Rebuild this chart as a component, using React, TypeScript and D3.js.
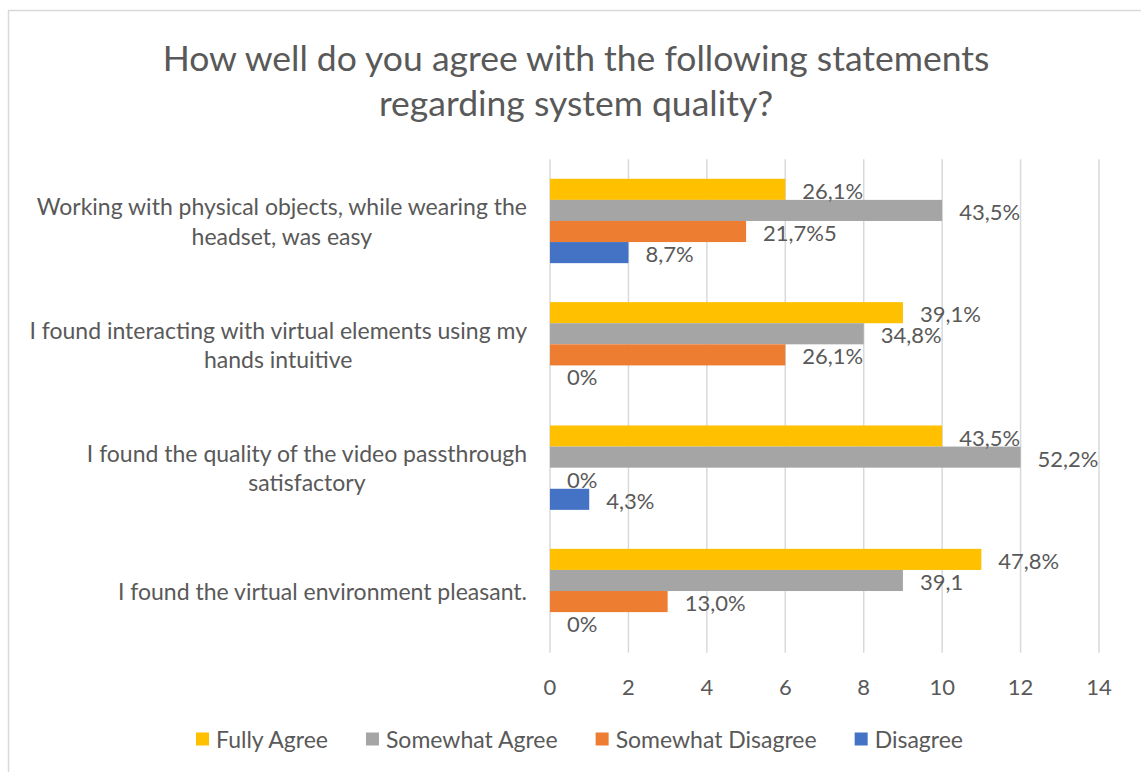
import React, { useEffect, useRef } from "react";
import * as d3 from "d3";

const categories = [
  ["Working with physical objects, while wearing the", "headset, was easy"],
  ["I found interacting with virtual elements using my", "hands intuitive"],
  ["I found the quality of the video passthrough", "satisfactory"],
  ["I found the virtual environment pleasant."],
];
const seriesNames = ["Fully Agree", "Somewhat Agree", "Somewhat Disagree", "Disagree"];
const seriesColors = ["#FFC000", "#A5A5A5", "#ED7D31", "#4472C4"];
const fullyAgree = [6, 9, 10, 11];
const somewhatAgree = [10, 8, 12, 9];
const somewhatDisagree = [5, 6, 0, 3];
const disagree = [2, 0, 1, 0];
const fullyAgreeLabels = ["26,1%", "39,1%", "43,5%", "47,8%"];
const somewhatAgreeLabels = ["43,5%", "34,8%", "52,2%", "39,1"];
const somewhatDisagreeLabels = ["21,7%5", "26,1%", "0%", "13,0%"];
const disagreeLabels = ["8,7%", "0%", "4,3%", "0%"];
const xTicks = [0, 2, 4, 6, 8, 10, 12, 14];
const titleLines = ["How well do you agree with the following statements", "regarding system quality?"];

const FONT = "Lato, 'Open Sans', sans-serif";
const TEXT = "#595959";

export default function App() {
  const ref = useRef<SVGSVGElement>(null);

  useEffect(() => {
    const svg = d3.select(ref.current);
    svg.selectAll("*").remove();

    const values = [fullyAgree, somewhatAgree, somewhatDisagree, disagree];
    const labels = [fullyAgreeLabels, somewhatAgreeLabels, somewhatDisagreeLabels, disagreeLabels];

    const W = 1141, H = 772;
    svg.append("rect").attr("x", 0).attr("y", 0).attr("width", W).attr("height", H).attr("fill", "#fff");
    svg.append("rect").attr("x", 8.5).attr("y", 10.5).attr("width", 1200).attr("height", 800)
      .attr("fill", "none").attr("stroke", "#d9d9d9").attr("stroke-width", 1.5);

    // title
    const title = svg.append("text").attr("text-anchor", "middle").attr("fill", TEXT)
      .style("font-family", FONT).style("font-size", "35.5px");
    titleLines.forEach((t, i) => {
      title.append("tspan").attr("x", 576).attr("y", 71 + i * 45).text(t);
    });

    const x = d3.scaleLinear().domain([0, 14]).range([550, 1099]);
    const y0 = d3.scaleBand<number>().domain(d3.range(categories.length))
      .range([159.3, 652.7]).paddingInner(0.316).paddingOuter(0.158);
    const y1 = d3.scaleBand<number>().domain(d3.range(seriesNames.length))
      .range([0, y0.bandwidth()]).padding(0);

    // gridlines
    svg.append("g").selectAll("line").data(xTicks).join("line")
      .attr("x1", (d) => x(d)).attr("x2", (d) => x(d))
      .attr("y1", 159.3).attr("y2", 652.7)
      .attr("stroke", "#d9d9d9").attr("stroke-width", 1.5);

    // x tick labels
    svg.append("g").selectAll("text").data(xTicks).join("text")
      .attr("x", (d) => x(d)).attr("y", 686)
      .attr("text-anchor", "middle").attr("dominant-baseline", "central")
      .attr("fill", TEXT).style("font-family", FONT).style("font-size", "22px")
      .text((d) => String(d));

    // bars
    const groups = svg.append("g").selectAll("g").data(d3.range(categories.length)).join("g")
      .attr("transform", (c) => `translate(0,${y0(c)})`);
    groups.selectAll("rect").data((c) => values.map((v, s) => ({ s, v: v[c] }))).join("rect")
      .attr("x", x(0)).attr("y", (d) => y1(d.s)!)
      .attr("width", (d) => x(d.v) - x(0)).attr("height", y1.bandwidth())
      .attr("fill", (d) => seriesColors[d.s]);
    groups.selectAll("text").data((c) => values.map((v, s) => ({ s, v: v[c], l: labels[s][c] }))).join("text")
      .attr("x", (d) => x(d.v) + 17).attr("y", (d) => y1(d.s)! + y1.bandwidth() / 2 + 1)
      .attr("dominant-baseline", "central").attr("fill", TEXT)
      .style("font-family", FONT).style("font-size", "22px")
      .text((d) => d.l);

    // category labels (lines centered within block right-aligned to axis)
    const right = 527;
    categories.forEach((lines, c) => {
      const cy = y0(c)! + y0.bandwidth() / 2;
      const g = svg.append("g");
      const texts = lines.map((ln, i) =>
        g.append("text").attr("text-anchor", "middle").attr("dominant-baseline", "central")
          .attr("fill", TEXT).style("font-family", FONT).style("font-size", "23px")
          .attr("y", cy + (i - (lines.length - 1) / 2) * 29.5).text(ln)
      );
      const maxW = d3.max(texts, (t) => (t.node() as SVGTextElement).getComputedTextLength()) || 0;
      texts.forEach((t) => t.attr("x", right - maxW / 2));
    });

    // legend
    const lg = svg.append("g");
    const items = seriesNames.map((n, i) => {
      const t = lg.append("text").attr("dominant-baseline", "central").attr("fill", TEXT)
        .style("font-family", FONT).style("font-size", "23px").attr("y", 739).text(n);
      const r = lg.append("rect").attr("width", 13).attr("height", 13).attr("y", 732.5).attr("fill", seriesColors[i]);
      return { t, r, w: (t.node() as SVGTextElement).getComputedTextLength() };
    });
    const gapMT = 7, gapItem = 38;
    const total = d3.sum(items, (it) => 13 + gapMT + it.w) + gapItem * (items.length - 1);
    let cx = 579.5 - total / 2;
    items.forEach((it) => {
      it.r.attr("x", cx);
      it.t.attr("x", cx + 13 + gapMT);
      cx += 13 + gapMT + it.w + gapItem;
    });
  }, []);

  return (
    <svg ref={ref} width={1141} height={772}
      style={{ position: "absolute", left: 0, top: 0, display: "block" }} />
  );
}
